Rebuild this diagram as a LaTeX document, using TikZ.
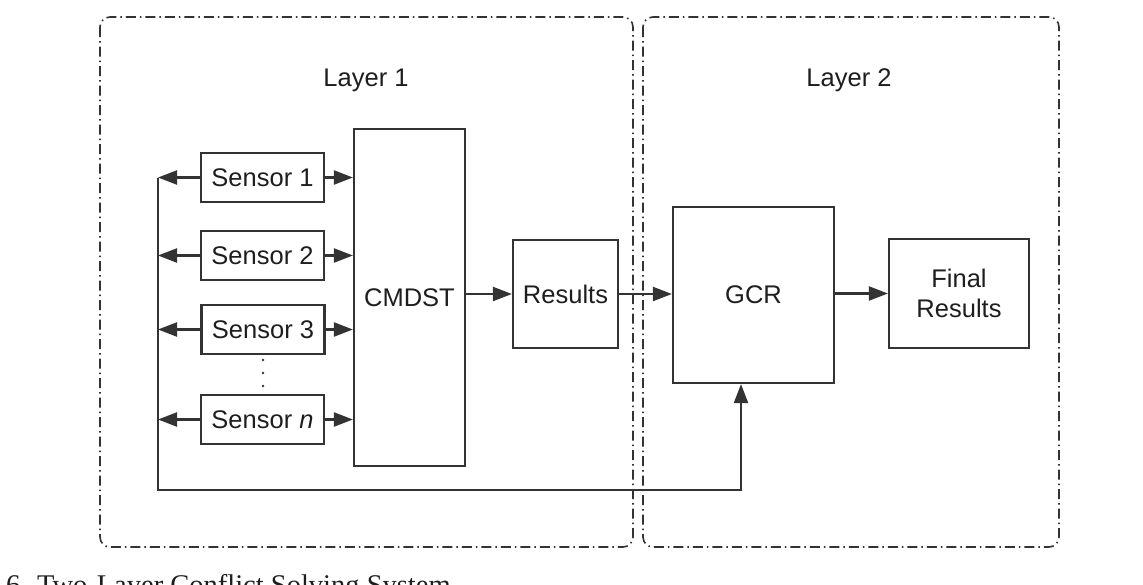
\documentclass[tikz,border=0pt]{standalone}
\usepackage{fontspec}
\setmainfont{Liberation Sans}
\newfontfamily\capfont{Liberation Serif}
\usetikzlibrary{arrows.meta}
\definecolor{linegray}{HTML}{333333}
\definecolor{txt}{HTML}{1E1E1E}
\begin{document}
\begin{tikzpicture}[x=1pt,y=-1pt,
  box/.style={draw=linegray, line width=2.2pt, inner sep=0pt, text=txt, align=center,
    font=\fontsize{25.5}{30}\selectfont},
  layerbox/.style={draw=linegray, line width=1.6pt, rounded corners=10pt,
    dash pattern=on 10pt off 4pt on 1.5pt off 4pt},
  lbl/.style={text=txt, font=\fontsize{25.5}{30}\selectfont},
  arr/.style={-{Triangle[length=19pt,width=14pt]}, line width=2.2pt, draw=linegray}]
\useasboundingbox (0,0) rectangle (1143,584);
\clip (0,0) rectangle (1143,584);
\fill[white] (0,0) rectangle (1143,584);

% layers
\draw[layerbox] (100,17) rectangle (633,547);
\draw[layerbox] (643,17) rectangle (1059,547);
\node[lbl] (l1) at (366,80) {Layer 1};
\node[lbl] (l2) at (849,80) {Layer 2};

% sensors
\node[box, minimum width=123pt, minimum height=49pt] (s1) at (262.5,177.5) {Sensor 1};
\node[box, minimum width=123pt, minimum height=49pt] (s2) at (262.5,255.5) {Sensor 2};
\node[box, minimum width=123pt, minimum height=49pt] (s3) at (263,329.5) {Sensor 3};
\node[box, minimum width=123pt, minimum height=49pt] (sn) at (262.5,419.5) {Sensor \textit{n}};
\foreach \yy in {360,373,386} \fill[linegray] (263,\yy) circle (1.3pt);

\node[box, minimum width=111pt, minimum height=337pt] (cm) at (409.5,297.5) {CMDST};
\node[box, minimum width=105pt, minimum height=108pt] (res) at (565.5,294) {Results};
\node[box, minimum width=161pt, minimum height=176pt] (gcr) at (753.5,295) {GCR};
\node[box, minimum width=140pt, minimum height=109pt] (fin) at (959,293.5) {Final\\Results};

% bus
\coordinate (busTop) at (158,177.5);
\coordinate (busEnd) at (741,490);

\foreach \s in {s1,s2,s3,sn}{
  \draw[arr] (\s.east) -- (\s.east -| cm.west);
  \draw[arr] (\s.west) -- (\s.west -| busTop);
}
\draw[arr] (busTop) |- (busEnd) -- (busEnd |- gcr.south);

\draw[arr] (cm.east |- res.west) -- (res.west);
\draw[arr] (res.east) -- (res.east -| gcr.west);
\draw[arr] (gcr.east |- fin.west) -- (fin.west);

% caption (cut off at bottom, as in the reference)
\node[anchor=base west, inner sep=0pt, text=txt, font=\capfont\fontsize{28.5}{30}\selectfont] (cap) at (6,594) {6. Two-Layer Conflict Solving System};
\end{tikzpicture}
\end{document}
